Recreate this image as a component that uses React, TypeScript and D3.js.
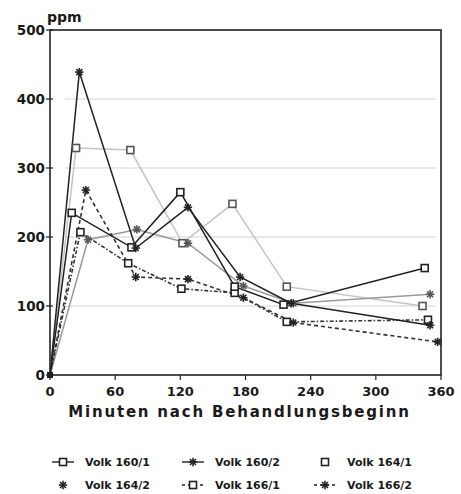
import * as React from "react";
import * as d3 from "d3";

// minutes after start of treatment, ppm
const v160_1 = [
  [0, 0], [20, 235], [75, 185], [120, 265], [170, 128], [215, 102], [345, 155],
];
const v160_2 = [
  [0, 0], [27, 439], [79, 184], [127, 243], [175, 142], [222, 104], [350, 72],
];
const v164_1 = [
  [0, 0], [24, 329], [74, 326], [122, 191], [168, 248], [218, 128], [343, 100],
];
const v164_2 = [
  [0, 0], [35, 196], [80, 211], [127, 191], [178, 129], [224, 104], [350, 117],
];
const v166_1 = [
  [0, 0], [28, 207], [72, 162], [121, 125], [170, 119], [218, 77], [348, 80],
];
const v166_2 = [
  [0, 0], [33, 268], [79, 142], [127, 139], [178, 112], [224, 76], [357, 48],
];

const xTicks = [0, 60, 120, 180, 240, 300, 360];
const yTicks = [0, 100, 200, 300, 400, 500];

type Series = {
  name: string;
  data: number[][];
  marker: "square" | "star";
  stroke: string;
  dash: string | null;
  legendLine: boolean;
  legendDash: string | null;
};

const series: Series[] = [
  { name: "Volk 160/1", data: v160_1, marker: "square", stroke: "#222", dash: null, legendLine: true, legendDash: null },
  { name: "Volk 160/2", data: v160_2, marker: "star", stroke: "#222", dash: null, legendLine: true, legendDash: null },
  { name: "Volk 164/1", data: v164_1, marker: "square", stroke: "#c4c4c4", dash: null, legendLine: false, legendDash: null },
  { name: "Volk 164/2", data: v164_2, marker: "star", stroke: "#9a9a9a", dash: null, legendLine: false, legendDash: null },
  { name: "Volk 166/1", data: v166_1, marker: "square", stroke: "#333", dash: "4 2 1.5 2", legendLine: true, legendDash: "3 3" },
  { name: "Volk 166/2", data: v166_2, marker: "star", stroke: "#333", dash: "4 3", legendLine: true, legendDash: "3 3" },
];

const font = "'DejaVu Sans', Verdana, sans-serif";

const Marker = ({ kind, x, y, color }: { kind: string; x: number; y: number; color: string }) => {
  if (kind === "square") {
    return <rect x={x - 3.5} y={y - 3.5} width={7} height={7} fill="#fff" stroke={color} strokeWidth={1.6} />;
  }
  const r = 4.2;
  const angles = [0, 45, 90, 135];
  return (
    <g stroke={color} strokeWidth={1.6}>
      {angles.map((a) => {
        const rad = (a * Math.PI) / 180;
        return (
          <line
            key={a}
            x1={x - r * Math.cos(rad)}
            y1={y - r * Math.sin(rad)}
            x2={x + r * Math.cos(rad)}
            y2={y + r * Math.sin(rad)}
          />
        );
      })}
    </g>
  );
};

export default function App() {
  const width = 461;
  const height = 494;
  const left = 50;
  const right = 441;
  const top = 30;
  const bottom = 375;

  const x = d3.scaleLinear().domain([0, 360]).range([left, right]);
  const y = d3.scaleLinear().domain([0, 500]).range([bottom, top]);

  const line = d3
    .line<number[]>()
    .x((d) => x(d[0]))
    .y((d) => y(d[1]));

  const legendPos = [
    [52, 466], [182, 466], [314, 466],
    [52, 489], [182, 489], [314, 489],
  ];

  return (
    <svg
      width={width}
      height={height}
      viewBox={`0 0 ${width} ${height}`}
      style={{ position: "absolute", left: 0, top: 0, background: "#fff" }}
      fontFamily={font}
      fontWeight="bold"
    >
      {/* faint grid lines */}
      {yTicks.slice(1, -1).map((t) => (
        <line key={t} x1={left + 15} x2={right - 5} y1={y(t)} y2={y(t)} stroke="#e2e2e2" strokeWidth={1.5} />
      ))}

      {/* frame */}
      <rect x={left} y={top} width={right - left} height={bottom - top} fill="none" stroke="#222" strokeWidth={1.6} />

      {/* y axis */}
      {yTicks.map((t) => (
        <g key={t}>
          <line x1={left - 4} x2={left + 3} y1={y(t)} y2={y(t)} stroke="#222" strokeWidth={1.2} />
          <text x={left - 5} y={y(t) + 5} textAnchor="end" fontSize={13.5} fill="#1a1a1a">
            {t}
          </text>
        </g>
      ))}
      <text x={47} y={22} fontSize={14} fill="#1a1a1a">ppm</text>

      {/* x axis */}
      {xTicks.map((t) => (
        <g key={t}>
          <line x1={x(t)} x2={x(t)} y1={bottom} y2={bottom + 5} stroke="#222" strokeWidth={1.2} />
          <text x={x(t)} y={bottom + 21} textAnchor="middle" fontSize={13} fill="#1a1a1a">
            {t}
          </text>
        </g>
      ))}
      <text x={(left + right) / 2 - 6} y={417} textAnchor="middle" fontSize={15} letterSpacing={1.8} fill="#1a1a1a">
        Minuten nach Behandlungsbeginn
      </text>

      {/* series lines */}
      {[2, 3, 4, 5, 0, 1].map((i) => {
        const s = series[i];
        return (
          <path
            key={s.name}
            d={line(s.data) ?? ""}
            fill="none"
            stroke={s.stroke}
            strokeWidth={s.dash ? 1.6 : 1.5}
            strokeDasharray={s.dash ?? undefined}
          />
        );
      })}

      {/* markers */}
      {[2, 3, 4, 5, 0, 1].map((i) => {
        const s = series[i];
        const mc = i === 2 || i === 3 ? "#555" : "#222";
        return (
          <g key={s.name}>
            {s.data.slice(1).map((d, j) => (
              <Marker key={j} kind={s.marker} x={x(d[0])} y={y(d[1])} color={mc} />
            ))}
          </g>
        );
      })}
      <rect x={x(0) - 3} y={y(0) - 3} width={6} height={6} fill="#222" />

      {/* legend */}
      {series.map((s, i) => {
        const [lx, ly] = legendPos[i];
        const cy = ly - 4;
        return (
          <g key={s.name}>
            {s.legendLine && (
              <line
                x1={lx}
                x2={lx + 22}
                y1={cy}
                y2={cy}
                stroke="#222"
                strokeWidth={1.4}
                strokeDasharray={s.legendDash ?? undefined}
              />
            )}
            <Marker kind={s.marker} x={lx + 11} y={cy} color="#222" />
            <text x={lx + 33} y={ly} fontSize={11} fill="#1a1a1a">
              {s.name}
            </text>
          </g>
        );
      })}
    </svg>
  );
}
